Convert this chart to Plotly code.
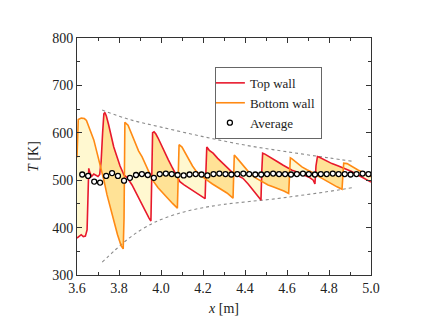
import numpy as np
import plotly.graph_objects as go

# top wall (red)
top_x = [3.600, 3.610, 3.620, 3.630, 3.640, 3.648, 3.652, 3.656, 3.662, 3.670, 3.680, 3.690,
         3.700, 3.708, 3.715, 3.722, 3.728, 3.733, 3.740, 3.750, 3.762, 3.775, 3.790, 3.805,
         3.824, 3.840, 3.862, 3.890, 3.910, 3.925, 3.943, 3.952, 3.956, 3.960, 3.967, 3.975,
         3.986, 4.000, 4.019, 4.035, 4.052, 4.070, 4.090, 4.110, 4.138, 4.160, 4.176, 4.195,
         4.210, 4.214, 4.218, 4.230, 4.248, 4.270, 4.295, 4.320, 4.343, 4.365, 4.390, 4.415,
         4.438, 4.460, 4.476, 4.480, 4.484, 4.495, 4.515, 4.533, 4.555, 4.580, 4.602, 4.624,
         4.645, 4.662, 4.685, 4.710, 4.725, 4.733, 4.738, 4.745, 4.752, 4.780, 4.814, 4.845,
         4.876, 4.905, 4.938, 4.970, 5.000]
top_T = [378, 382, 385, 381, 382, 395, 470, 525, 515, 508, 513, 510,
         508, 512, 540, 600, 640, 643, 635, 618, 592, 570, 550, 530,
         511, 505, 490, 465, 448, 437, 420, 414, 560, 600, 602, 598,
         589, 575, 557, 543, 528, 512, 497, 490, 482, 476, 471, 466,
         461, 520, 570, 563, 557, 546, 536, 524, 515, 510, 504, 492,
         480, 468, 458, 520, 557, 555, 550, 546, 539, 532, 526, 521,
         518, 515, 511, 505, 500, 492, 530, 550, 549, 542, 535, 530,
         525, 519, 511, 503, 496]

# bottom wall (orange)
bot_x = [3.600, 3.603, 3.606, 3.620, 3.635, 3.645, 3.655, 3.668, 3.680, 3.697, 3.714, 3.728,
         3.743, 3.760, 3.776, 3.793, 3.810, 3.820, 3.824, 3.828, 3.843, 3.860, 3.876, 3.893,
         3.910, 3.938, 3.960, 3.986, 4.010, 4.033, 4.055, 4.078, 4.082, 4.086, 4.100, 4.129,
         4.150, 4.171, 4.195, 4.219, 4.245, 4.267, 4.290, 4.314, 4.343, 4.346, 4.349, 4.365,
         4.392, 4.420, 4.450, 4.480, 4.510, 4.533, 4.560, 4.585, 4.608, 4.612, 4.616, 4.624,
         4.648, 4.671, 4.695, 4.719, 4.750, 4.781, 4.810, 4.838, 4.862, 4.866, 4.870, 4.886,
         4.910, 4.940, 4.971, 5.000]
bot_T = [548, 600, 628, 631, 630, 626, 615, 600, 585, 555, 526, 500,
         469, 440, 412, 385, 362, 355, 420, 622, 616, 598, 578, 562,
         549, 521, 500, 484, 472, 462, 451, 441, 520, 575, 570, 547,
         530, 517, 508, 500, 492, 486, 479, 473, 462, 520, 553, 545,
         530, 516, 505, 497, 490, 486, 482, 477, 472, 515, 547, 545,
         536, 528, 522, 517, 508, 500, 493, 486, 481, 510, 536, 535,
         528, 521, 515, 507]

# average (markers)
avg_x = [3.625, 3.653, 3.682, 3.710, 3.739, 3.767, 3.795, 3.824, 3.852, 3.881, 3.909, 3.937,
         3.966, 3.994, 4.023, 4.051, 4.079, 4.108, 4.136, 4.165, 4.193, 4.221, 4.250, 4.278,
         4.307, 4.335, 4.363, 4.392, 4.420, 4.449, 4.477, 4.505, 4.534, 4.562, 4.591, 4.619,
         4.647, 4.676, 4.704, 4.733, 4.761, 4.789, 4.818, 4.846, 4.875, 4.903, 4.931, 4.960,
         4.988]
avg_T = [512, 509, 497, 495, 509, 515, 509, 499, 505, 511, 513, 511,
         505, 513, 514, 513, 511, 510, 512, 513, 512, 510, 513, 514,
         513, 512, 513, 514, 513, 512, 512, 513, 514, 513, 513, 512,
         513, 514, 513, 512, 513, 513, 514, 513, 513, 512, 513, 514,
         513]

# envelopes (grey dashed)
env_up_x = [3.72, 3.85, 4.00, 4.20, 4.40, 4.60, 4.80, 4.91]
env_up_T = [648, 628, 612, 592, 574, 560, 547, 540]
env_lo_x = [3.72, 3.78, 3.84, 3.90, 3.96, 4.00, 4.10, 4.20, 4.30, 4.42, 4.55, 4.65, 4.78, 4.91]
env_lo_T = [327, 352, 375, 394, 409, 417, 432, 442, 449, 455, 461, 467, 475, 484]

RED = '#e8192c'
ORANGE = '#ff8a14'
LIGHT = 'rgb(255,248,208)'
DARK = 'rgb(255,226,150)'
FONT = 'Liberation Serif'
INK = '#222222'

# shading between the walls: light where bottom is above, darker where top is above
grid = np.union1d(top_x, bot_x)
t = np.interp(grid, top_x, top_T)
b = np.interp(grid, bot_x, bot_T)
lo = np.minimum(t, b)
hi = np.maximum(t, b)

fig = go.Figure()
for mask, col in [(b >= t, LIGHT), (t > b, DARK)]:
    fig.add_trace(go.Scatter(x=grid, y=lo, mode='lines', line=dict(width=0),
                             showlegend=False, hoverinfo='skip'))
    fig.add_trace(go.Scatter(x=grid, y=np.where(mask, hi, lo), mode='lines',
                             line=dict(width=0), fill='tonexty', fillcolor=col,
                             showlegend=False, hoverinfo='skip'))

dash = dict(color='#8c8c8c', width=1.1, dash='3px,3px')
fig.add_trace(go.Scatter(x=env_up_x, y=env_up_T, mode='lines', line=dash,
                         line_shape='spline', showlegend=False))
fig.add_trace(go.Scatter(x=env_lo_x, y=env_lo_T, mode='lines', line=dash,
                         line_shape='spline', showlegend=False))

fig.add_trace(go.Scatter(x=top_x, y=top_T, mode='lines', name='Top wall',
                         line=dict(color=RED, width=1.6)))
fig.add_trace(go.Scatter(x=bot_x, y=bot_T, mode='lines', name='Bottom wall',
                         line=dict(color=ORANGE, width=1.6)))
fig.add_trace(go.Scatter(x=avg_x, y=avg_T, mode='markers', name='Average',
                         marker=dict(symbol='circle', size=5, color='white',
                                     line=dict(color='black', width=1.3))))

axis = dict(showline=True, linecolor='#333333', linewidth=1, mirror='ticks',
            ticks='inside', ticklen=5, tickcolor='#333333', showgrid=False,
            zeroline=False, tickfont=dict(family=FONT, size=14, color=INK))

fig.update_xaxes(axis, range=[3.6, 5.0], dtick=0.2, tickformat='.1f',
                 minor=dict(ticks='inside', dtick=0.1, ticklen=3, tickcolor='#333333'),
                 title=dict(text='<i>x</i> [m]', font=dict(family=FONT, size=14, color=INK),
                            standoff=8))
fig.update_yaxes(axis, range=[300, 800], dtick=100,
                 minor=dict(ticks='inside', dtick=50, ticklen=3, tickcolor='#333333'),
                 title=dict(text='<i>T</i> [K]', font=dict(family=FONT, size=14, color=INK),
                            standoff=10))

# page body adds an 8px offset, so the figure is a bit smaller than the window
fig.update_layout(width=423, height=322,
                  margin=dict(l=69, r=60, t=30, b=55),
                  plot_bgcolor='white', paper_bgcolor='white',
                  font=dict(family=FONT, size=14, color=INK),
                  legend=dict(x=0.469, y=0.878, xanchor='left', yanchor='top',
                              traceorder='normal',
                              bgcolor='white', bordercolor='#666666', borderwidth=1,
                              font=dict(family=FONT, size=13),
                              itemwidth=30, tracegroupgap=0,
                              indentation=-6))

fig.write_html("out.html")
